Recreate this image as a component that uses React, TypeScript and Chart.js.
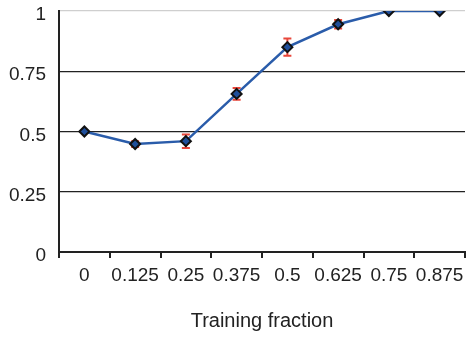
import React, { useEffect, useRef } from "react";
import { Chart, registerables } from "chart.js";

Chart.register(...registerables);

const categories = ["0", "0.125", "0.25", "0.375", "0.5", "0.625", "0.75", "0.875"];
const values = [0.5, 0.448, 0.46, 0.656, 0.85, 0.945, 1.0, 1.0];
const errors = [0, 0.012, 0.028, 0.024, 0.036, 0.018, 0, 0];
const yTickStep = 0.25;
const xTitle = "Training fraction";

const errorBarPlugin = {
  id: "errorBars",
  beforeDatasetsDraw(chart: any) {
    const { ctx, scales } = chart;
    const xs = scales.x;
    const ys = scales.y;
    ctx.save();
    ctx.strokeStyle = "#e8463a";
    ctx.lineWidth = 2;
    values.forEach((v, i) => {
      const e = errors[i];
      if (!e) return;
      const x = xs.getPixelForValue(i);
      const y1 = ys.getPixelForValue(v + e);
      const y2 = ys.getPixelForValue(v - e);
      ctx.beginPath();
      ctx.moveTo(x, y1);
      ctx.lineTo(x, y2);
      ctx.moveTo(x - 4, y1);
      ctx.lineTo(x + 4, y1);
      ctx.moveTo(x - 4, y2);
      ctx.lineTo(x + 4, y2);
      ctx.stroke();
    });
    ctx.restore();
  },
};

export default function App() {
  const ref = useRef<HTMLCanvasElement | null>(null);
  useEffect(() => {
    if (!ref.current) return;
    const chart = new Chart(ref.current, {
      type: "line",
      data: {
        labels: categories,
        datasets: [
          {
            data: values,
            borderColor: "#2a5caa",
            borderWidth: 2.5,
            pointStyle: "rectRot",
            pointRadius: 5,
            pointBackgroundColor: "#1f4e9a",
            pointBorderColor: "#111",
            pointBorderWidth: 2,
            tension: 0,
          },
        ],
      },
      options: {
        animation: false,
        responsive: false,
        maintainAspectRatio: false,
        layout: { padding: { left: 0, right: 4, top: 11, bottom: 0 } },
        plugins: { legend: { display: false }, tooltip: { enabled: false } },
        scales: {
          x: {
            type: "category",
            offset: true,
            grid: {
              offset: true,
              drawOnChartArea: false,
              drawTicks: true,
              tickLength: 6,
              color: "#222",
              lineWidth: 2,
            },
            border: { display: true, color: "#222", width: 2 },
            ticks: {
              color: "#222",
              padding: 6,
              maxRotation: 0,
              autoSkip: false,
              font: { family: "Liberation Sans, Arial, sans-serif", size: 19 },
            },
            title: {
              display: true,
              text: xTitle,
              color: "#222",
              padding: { top: 0, bottom: 5 },
              font: { family: "Liberation Sans, Arial, sans-serif", size: 20 },
            },
            afterFit(scale: any) {
              scale.height = 86;
              scale.paddingLeft = 0;
              scale.paddingRight = 0;
            },
          },
          y: {
            min: 0,
            max: 1,
            grid: {
              drawTicks: false,
              color: (c: any) => (c.tick && c.tick.value === 1 ? "#cfcfcf" : "#222"),
              lineWidth: 1.2,
            },
            border: { display: true, color: "#222", width: 2 },
            ticks: {
              stepSize: yTickStep,
              color: "#222",
              padding: 13,
              labelOffset: 4,
              callback: (v: any) => String(Number(v)),
              font: { family: "Liberation Sans, Arial, sans-serif", size: 19 },
            },
            afterFit(scale: any) {
              scale.width = 59;
              scale.paddingTop = 0;
              scale.paddingBottom = 0;
            },
          },
        },
      },
      plugins: [errorBarPlugin],
    });
    return () => chart.destroy();
  }, []);
  return (
    <div style={{ position: "fixed", left: 0, top: 0, width: 472, height: 338, background: "#fff" }}>
      <canvas ref={ref} width={472} height={338} style={{ width: 472, height: 338 }} />
    </div>
  );
}
